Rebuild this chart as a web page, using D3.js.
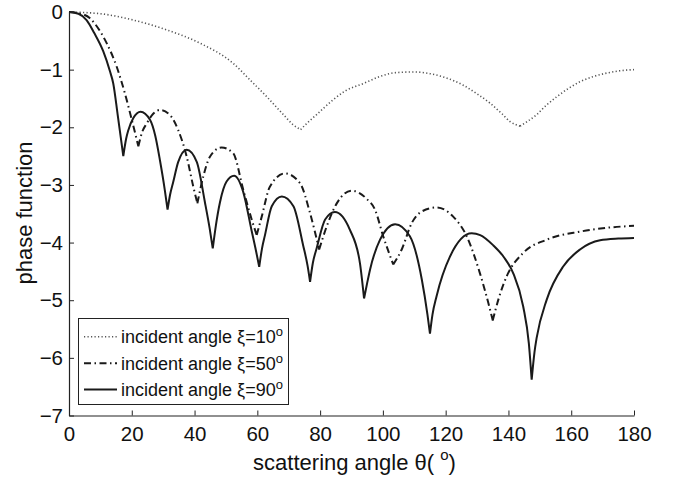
<!DOCTYPE html>
<html><head><meta charset="utf-8">
<script src="https://cdn.jsdelivr.net/npm/d3@7"></script>
<style>
body{margin:0;background:#fff}
svg{display:block}
text{font-family:"Liberation Sans",Arial,Helvetica,sans-serif;fill:#111}
</style>
</head><body>
<svg id="c" width="674" height="478"></svg>
<script>
// ---- data ----
const xTicks = [0,20,40,60,80,100,120,140,160,180];
const yTicks = [0,-1,-2,-3,-4,-5,-6,-7];

const seriesNames = ["incident angle \u03BE=10", "incident angle \u03BE=50", "incident angle \u03BE=90"];

// xi = 10 deg (dotted)
const xi10 = [[0,0],[10,-0.03],[20.5,-0.14],[31.1,-0.31],[41.7,-0.54],[52.3,-0.89],[57.7,-1.18],[63,-1.47],[68.3,-1.78],[71.5,-1.96],[73.8,-2.04],
  [76,-1.92],[78.9,-1.78],[84.2,-1.52],[88,-1.37],[93.8,-1.24],[99,-1.12],[104.4,-1.05],[110,-1.04],[115,-1.07],[120,-1.14],[125.6,-1.27],[130,-1.42],[134.1,-1.58],[138,-1.77],[140.5,-1.90],[143.7,-1.98],
  [146,-1.90],[149,-1.78],[152,-1.62],[155.4,-1.47],[159,-1.33],[162.8,-1.21],[167,-1.12],[171.3,-1.06],[175.5,-1.02],[180,-1.0]];

// xi = 50 deg (dash-dot)
const xi50 = [[0,0],[3,-0.02],[6.7,-0.11],[9.5,-0.3],[12,-0.54],[15.2,-0.95],[17.8,-1.41],[20,-1.87],[22.1,-2.33],
  [23.2,-2.1],[24.8,-1.93],[26.9,-1.76],[29,-1.70],[32.2,-1.79],[34.8,-2.05],[37.5,-2.51],[39.6,-3.03],[40.9,-3.32],
  [42.8,-2.85],[44.9,-2.51],[48.6,-2.35],[52.3,-2.45],[55.5,-3.08],[58.2,-3.6],[59.8,-3.87],
  [61.4,-3.55],[64,-3.03],[68.8,-2.80],[73.6,-2.97],[76.8,-3.49],[79.7,-4.12],
  [82.1,-3.72],[85.3,-3.32],[90.1,-3.10],[94.8,-3.24],[97.5,-3.43],[100.1,-3.89],[103.3,-4.38],
  [106,-4.12],[109.2,-3.66],[112.4,-3.46],[117.1,-3.39],[122.4,-3.55],[126.7,-3.89],[130.9,-4.53],[133.6,-5.05],[135,-5.35],
  [137,-4.95],[139.4,-4.59],[144.7,-4.18],[152.2,-3.95],[162.8,-3.81],[172,-3.74],[180,-3.71]];

// xi = 90 deg (solid)
const xi90 = [[0,0],[3,-0.03],[5.6,-0.14],[8,-0.36],[10.9,-0.68],[13,-1.02],[14.1,-1.24],[15.5,-1.78],[16.5,-2.18],[17.3,-2.5],
  [18.2,-2.2],[18.9,-2.05],[20.5,-1.84],[22.8,-1.73],[25.8,-1.87],[27.5,-2.15],[29,-2.58],[30.5,-3.08],[31.4,-3.43],
  [32.2,-3.17],[33.2,-2.95],[34.8,-2.6],[37.5,-2.39],[40.7,-2.6],[43.3,-3.3],[44.8,-3.75],[45.8,-4.1],
  [46.8,-3.7],[48.1,-3.3],[50.2,-2.94],[52.6,-2.84],[55.5,-3.12],[58.2,-3.8],[59.6,-4.15],[60.6,-4.42],
  [61.5,-4.1],[62.4,-3.88],[64.6,-3.37],[67.8,-3.2],[71.5,-3.37],[74.6,-4.05],[76,-4.4],[76.8,-4.68],
  [77.7,-4.35],[78.9,-4.1],[81.6,-3.6],[84.7,-3.47],[89.5,-3.78],[92.7,-4.36],[94,-4.97],
  [95,-4.7],[95.9,-4.47],[99.1,-3.95],[103.9,-3.68],[108.6,-3.89],[112.4,-4.64],[114.2,-5.25],[115,-5.58],
  [115.8,-5.25],[117.1,-4.93],[121.4,-4.24],[128.3,-3.84],[131,-3.87],[135.2,-4.05],[138.5,-4.25],[141.5,-4.53],[144.7,-5.11],[146.5,-5.75],[147.4,-6.38],
  [148.3,-5.9],[149,-5.65],[152.2,-4.99],[157.5,-4.41],[162.8,-4.12],[169.2,-3.96],[175,-3.93],[180,-3.92]];

// ---- chart ----
const svg = d3.select("#c");
const x = d3.scaleLinear().domain([0,180]).range([69,634]);
const y = d3.scaleLinear().domain([-7,0]).range([415.5,12]);

const styles = [
  {stroke:"#555", width:1.6, dash:"1.2,2.3"},
  {stroke:"#1a1a1a", width:2, dash:"7,3.5,1.5,3.5"},
  {stroke:"#1a1a1a", width:2, dash:null}
];

const line = d3.line().x(d=>x(d[0])).y(d=>y(d[1])).curve(d3.curveMonotoneX);

// split a series into arcs at its sharp local minima (cusps)
function splitAtMinima(pts){
  const segs=[]; let cur=[pts[0]];
  for(let i=1;i<pts.length;i++){
    cur.push(pts[i]);
    if(i<pts.length-1 && pts[i][1]<pts[i-1][1] && pts[i][1]<pts[i+1][1]){
      segs.push(cur); cur=[pts[i]];
    }
  }
  segs.push(cur);
  return segs;
}

[xi10, xi50, xi90].forEach((s,i)=>{
  const d = splitAtMinima(s).map(seg=>line(seg)).join("");
  const p = svg.append("path").attr("d",d).attr("fill","none")
    .attr("stroke",styles[i].stroke).attr("stroke-width",styles[i].width)
    .attr("stroke-linejoin","round");
  if(styles[i].dash) p.attr("stroke-dasharray",styles[i].dash);
});

// axes
const gx = svg.append("g").attr("transform","translate(0,415.5)")
  .call(d3.axisBottom(x).tickValues(xTicks).tickSizeInner(-5).tickSizeOuter(0).tickPadding(11).tickFormat(d3.format("d")));
const gy = svg.append("g").attr("transform","translate(69,0)")
  .call(d3.axisLeft(y).tickValues(yTicks).tickSizeInner(-5).tickSizeOuter(0).tickPadding(6).tickFormat(d3.format("d")));
[gx,gy].forEach(g=>{
  g.select(".domain").attr("stroke","#222").attr("stroke-width",1.2);
  g.selectAll(".tick line").attr("stroke","#222").attr("stroke-width",1);
  g.selectAll(".tick text").attr("font-size",20.5).attr("fill","#111")
   .style("font-family",'"Liberation Sans",Arial,sans-serif');
});

// axis titles
const xl = svg.append("text").attr("x",354.5).attr("y",470).attr("text-anchor","middle").attr("font-size",22);
xl.append("tspan").text("scattering angle \u03B8( ");
xl.append("tspan").attr("font-size",15).attr("dy",-10).text("o");
xl.append("tspan").attr("dy",10).text(")");

svg.append("text").attr("transform","translate(32,213) rotate(-90)")
  .attr("text-anchor","middle").attr("font-size",22).text("phase function");

// legend
const lg = svg.append("g");
lg.append("rect").attr("x",78.5).attr("y",318.5).attr("width",210).attr("height",86)
  .attr("fill","#fff").attr("stroke","#222").attr("stroke-width",1);
const rowY = [336.7, 363.3, 389.6];
seriesNames.forEach((n,i)=>{
  const l = lg.append("line").attr("x1",84).attr("x2",117).attr("y1",rowY[i]).attr("y2",rowY[i])
    .attr("stroke",styles[i].stroke).attr("stroke-width",styles[i].width);
  if(styles[i].dash) l.attr("stroke-dasharray",styles[i].dash);
  const t = lg.append("text").attr("x",121).attr("y",rowY[i]).attr("dy","0.35em").attr("font-size",18);
  t.append("tspan").text(n);
  t.append("tspan").attr("font-size",13).attr("dy",-7).text("o");
});
</script>
</body></html>
